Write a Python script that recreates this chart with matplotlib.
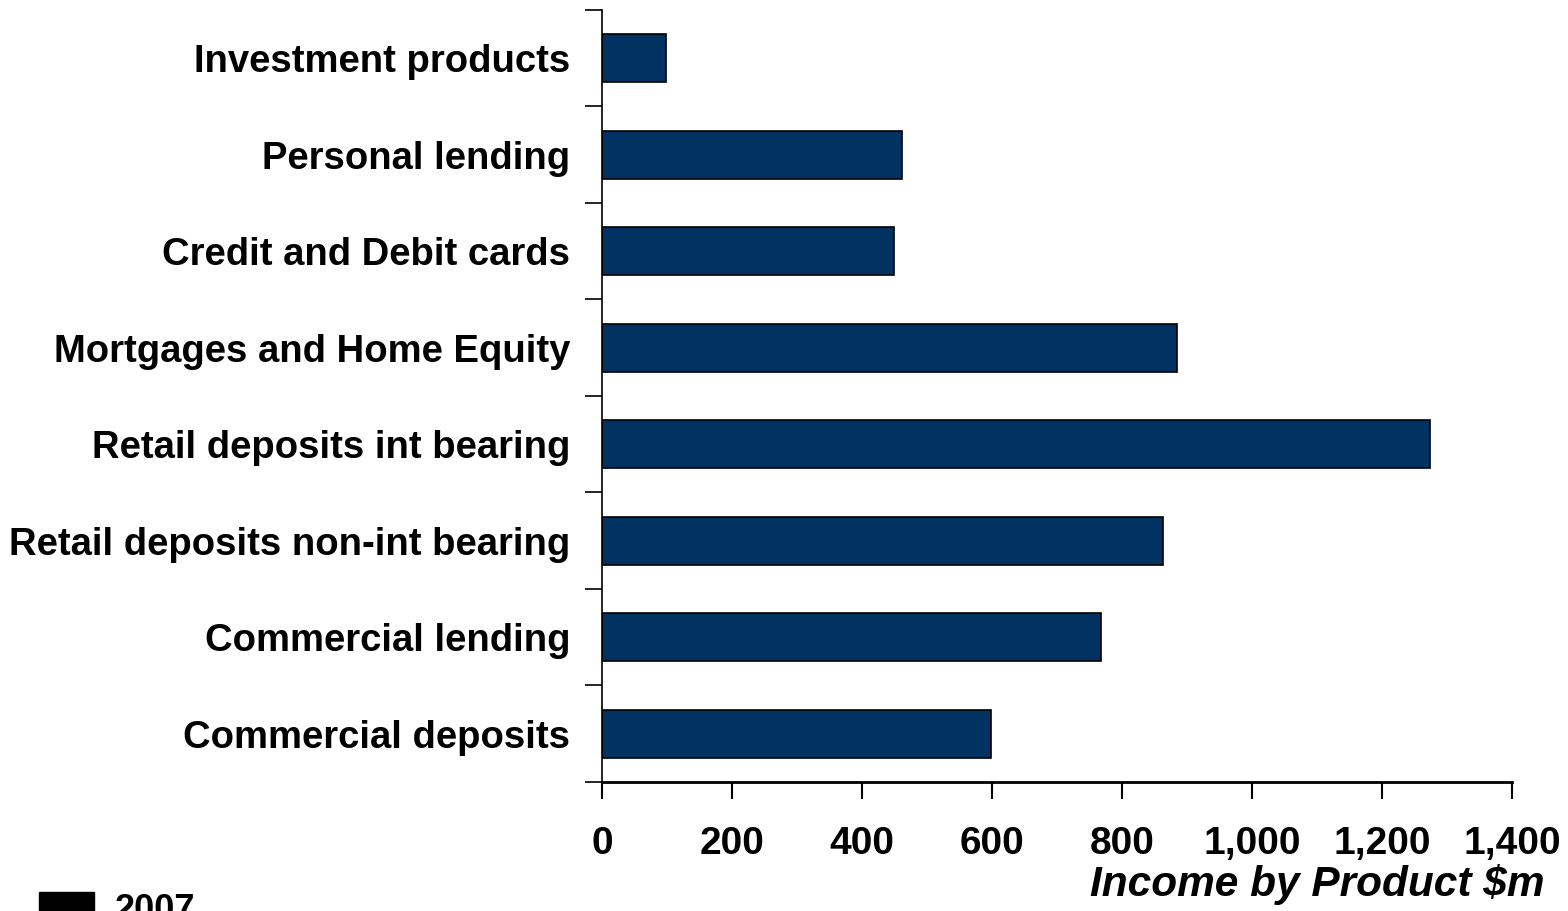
import matplotlib
matplotlib.use("Agg")
import matplotlib.pyplot as plt
from matplotlib.patches import Patch

plt.rcParams['font.family'] = ['Liberation Sans', 'DejaVu Sans']

categories = ["Investment products", "Personal lending", "Credit and Debit cards",
              "Mortgages and Home Equity", "Retail deposits int bearing",
              "Retail deposits non-int bearing", "Commercial lending", "Commercial deposits"]
income_2007 = [99, 461, 449, 885, 1274, 863, 768, 598]
xticks = [0, 200, 400, 600, 800, 1000, 1200, 1400]
xtick_labels = ["0", "200", "400", "600", "800", "1,000", "1,200", "1,400"]

fig = plt.figure(figsize=(15.68, 9.11), dpi=100)
ax = fig.add_axes([0.3839, 0.1416, 0.5804, 0.8475])

ypos = list(range(len(categories)))
ax.barh(ypos, income_2007, height=0.5, color='#003262', edgecolor='black', linewidth=1.2)

ax.set_xlim(0, 1400)
ax.set_ylim(len(categories) - 0.5, -0.5)

# category labels in the middle, tick marks between bars
ax.set_yticks(ypos)
ax.set_yticklabels(categories, fontsize=27.5, fontweight='bold')
ax.tick_params(axis='y', which='major', length=0, pad=23)
ax.set_yticks([i - 0.5 for i in range(len(categories) + 1)], minor=True)
ax.tick_params(axis='y', which='minor', length=12, width=1.2, direction='out')

ax.set_xticks(xticks)
ax.set_xticklabels(xtick_labels, fontsize=28, fontweight='bold')
ax.tick_params(axis='x', length=12, width=1.5, pad=20)

ax.spines['top'].set_visible(False)
ax.spines['right'].set_visible(False)
ax.spines['left'].set_linewidth(1.2)
ax.spines['bottom'].set_linewidth(2)

fig.text(0.985, 0.029, "Income by Product $m", fontsize=30.5, fontweight='bold',
         fontstyle='italic', ha='right', va='center')

fig.legend(handles=[Patch(facecolor='black', edgecolor='black')], labels=['2007'],
           loc='upper left', bbox_to_anchor=(0.0044, 0.0566), frameon=False,
           prop={'size': 26, 'weight': 'bold'}, handlelength=1.5, handleheight=1.0,
           handletextpad=0.6)

fig.savefig("out.png", dpi=100)
